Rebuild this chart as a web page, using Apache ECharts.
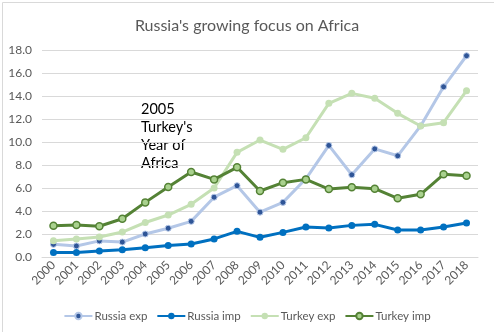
<!DOCTYPE html>
<html><head><meta charset="utf-8">
<script src="https://cdn.jsdelivr.net/npm/echarts@6/dist/echarts.min.js"></script>
<style>html,body{margin:0;padding:0;background:#fff}#c{width:494px;height:332px}</style>
</head><body><div id="c"></div>
<script>
const years = ['2000','2001','2002','2003','2004','2005','2006','2007','2008','2009','2010','2011','2012','2013','2014','2015','2016','2017','2018'];
const russiaExp = [1.1,0.96,1.4,1.3,2.0,2.5,3.1,5.2,6.2,3.9,4.75,6.8,9.7,7.15,9.4,8.8,11.4,14.8,17.5];
const russiaImp = [0.4,0.4,0.52,0.64,0.81,0.99,1.13,1.57,2.23,1.71,2.14,2.61,2.52,2.75,2.84,2.35,2.35,2.61,2.96];
const turkeyExp = [1.42,1.57,1.74,2.17,3.0,3.65,4.58,6.0,9.1,10.17,9.36,10.37,13.36,14.23,13.8,12.49,11.39,11.68,14.46];
const turkeyImp = [2.72,2.78,2.67,3.33,4.75,6.09,7.39,6.75,7.8,5.74,6.46,6.75,5.91,6.06,5.94,5.1,5.45,7.19,7.07];
const yTicks = {min:0, max:18, interval:2};
const titleText = "Russia's growing focus on Africa";
const annotation = "2005\nTurkey's\nYear of\nAfrica";

const font = 'Lato';
const chart = echarts.init(document.getElementById('c'));
chart.setOption({
  animation:false,
  textStyle:{fontFamily:font},
  title:{text:titleText,left:'center',top:13,textStyle:{fontSize:16,fontWeight:'normal',color:'#595959',fontFamily:font}},
  grid:{left:42,right:16,top:50,bottom:75},
  legend:{top:305,left:'center',itemWidth:28,itemHeight:8,itemGap:9,
    textStyle:{fontSize:11.5,color:'#595959',fontFamily:font,padding:[0,0,0,-3]},
    data:['Russia exp','Russia imp','Turkey exp','Turkey imp']},
  xAxis:{type:'category',data:years,boundaryGap:true,
    axisLine:{lineStyle:{color:'#D9D9D9'}},axisTick:{show:false},
    axisLabel:{rotate:45,fontSize:12,color:'#595959',margin:6,interval:0}},
  yAxis:{type:'value',min:yTicks.min,max:yTicks.max,interval:yTicks.interval,
    axisLine:{show:false},axisTick:{show:false},
    splitLine:{lineStyle:{color:'#D9D9D9',width:1}},
    axisLabel:{fontSize:12,color:'#595959',margin:10,formatter:v=>v.toFixed(1)}},
  graphic:[
    {type:'rect',left:0,top:0,shape:{x:0,y:0,width:493,height:331},style:{fill:'none',stroke:'#D9D9D9',lineWidth:1},silent:true},
    {type:'text',left:141,top:100,style:{text:annotation,fontSize:14.5,lineHeight:18,fill:'#000',fontFamily:font}}
  ],
  series:[
    {name:'Russia exp',type:'line',data:russiaExp,symbol:'circle',symbolSize:6,
      lineStyle:{color:'#B4C7E7',width:3},itemStyle:{color:'#2F5597',borderColor:'#B4C7E7',borderWidth:1}},
    {name:'Russia imp',type:'line',data:russiaImp,symbol:'circle',symbolSize:7,
      lineStyle:{color:'#0070C0',width:3},itemStyle:{color:'#0070C0'}},
    {name:'Turkey exp',type:'line',data:turkeyExp,symbol:'circle',symbolSize:7,
      lineStyle:{color:'#C5E0B4',width:3},itemStyle:{color:'#C5E0B4'}},
    {name:'Turkey imp',type:'line',data:turkeyImp,symbol:'circle',symbolSize:7,
      lineStyle:{color:'#548235',width:3},itemStyle:{color:'#A9D18E',borderColor:'#548235',borderWidth:1.5}}
  ]
});
</script></body></html>
